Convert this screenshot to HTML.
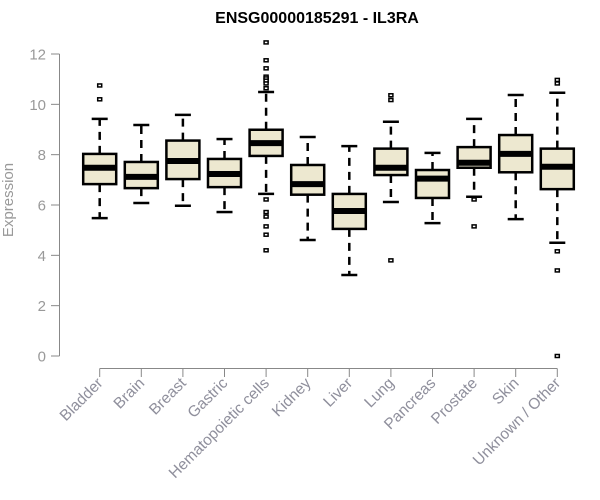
<!DOCTYPE html>
<html><head><meta charset="utf-8"><style>
body{margin:0;background:#fff}
svg{display:block;font-family:"Liberation Sans",Arial,sans-serif}
</style></head><body>
<svg id="chart" width="600" height="500" viewBox="0 0 600 500">
<text x="317" y="23" text-anchor="middle" font-weight="bold" font-size="16" fill="#000">ENSG00000185291 - IL3RA</text>
<text transform="translate(13,200) rotate(-90)" text-anchor="middle" font-size="15" fill="#999">Expression</text>
<g id="yaxis"></g>
<g id="xaxis"></g>
<g id="boxes"></g>
</svg>
<script>
const categories=["Bladder","Brain","Breast","Gastric","Hematopoietic cells","Kidney","Liver","Lung","Pancreas","Prostate","Skin","Unknown / Other"];
const whiskerLow=[5.48,6.08,5.97,5.72,6.44,4.61,3.22,6.12,5.28,6.33,5.44,4.50];
const q1=[6.83,6.67,7.03,6.71,7.95,6.41,5.05,7.19,6.28,7.48,7.30,6.63];
const medians=[7.48,7.12,7.75,7.23,8.46,6.83,5.76,7.48,7.05,7.68,8.03,7.52];
const q3=[8.03,7.71,8.56,7.83,8.99,7.59,6.44,8.24,7.39,8.30,8.78,8.24];
const whiskerHigh=[9.42,9.18,9.58,8.62,10.49,8.70,8.34,9.31,8.07,9.42,10.37,10.46];
const outliers=[[10.75,10.2],[],[],[],[12.46,11.75,11.43,11.1,11.03,10.94,10.83,10.64,6.22,5.72,5.54,5.15,4.82,4.2],[],[],[10.36,10.17,3.8],[],[6.22,5.15],[],[10.97,10.83,4.16,3.40,0]];
const yTicks=[0,2,4,6,8,10,12];
const NS="http://www.w3.org/2000/svg";
function y(v){return 356-v*(302/12);}
function x(i){return 99.7+i*41.6;}
function mk(tag,attrs,parent){const e=document.createElementNS(NS,tag);for(const k in attrs)e.setAttribute(k,attrs[k]);parent.appendChild(e);return e;}
const ya=document.getElementById('yaxis');
const l0=mk('line',{x1:59.5,x2:59.5,y1:y(12),y2:y(0),stroke:'#888','stroke-width':1},ya);


yTicks.forEach(t=>{
 const tk=mk('line',{x1:51,x2:59.5,y1:y(t),y2:y(t),stroke:'#888'},ya);
 
 
 const tx=mk('text',{x:46,y:y(t)+5.5,'text-anchor':'end','font-size':15,fill:'#999'},ya);
 tx.textContent=t;
 
 
});
const xa=document.getElementById('xaxis');
const xl=mk('line',{x1:x(0),x2:x(categories.length-1),y1:368.5,y2:368.5,stroke:'#888'},xa);


const bx=document.getElementById('boxes');
categories.forEach((c,i)=>{
 const cx=x(i);
 const tk=mk('line',{x1:cx,x2:cx,y1:368.5,y2:377,stroke:'#888'},xa);
 
 
 const tx=mk('text',{transform:`translate(${cx+4},${384}) rotate(-45)`,'text-anchor':'end','font-size':15.5,fill:'#8f8f9c'},xa);
 tx.textContent=c;
 
 
 const g=mk('g',{},bx);
 
 
 mk('line',{x1:cx,x2:cx,y1:y(q3[i]),y2:y(whiskerHigh[i]),stroke:'#000','stroke-width':2.5,'stroke-dasharray':'8,6'},g);
 mk('line',{x1:cx,x2:cx,y1:y(q1[i]),y2:y(whiskerLow[i]),stroke:'#000','stroke-width':2.5,'stroke-dasharray':'8,6'},g);
 mk('line',{x1:cx-8,x2:cx+8,y1:y(whiskerHigh[i]),y2:y(whiskerHigh[i]),stroke:'#000','stroke-width':2.5},g);
 mk('line',{x1:cx-8,x2:cx+8,y1:y(whiskerLow[i]),y2:y(whiskerLow[i]),stroke:'#000','stroke-width':2.5},g);
 mk('rect',{x:cx-16.5,y:y(q3[i]),width:33,height:y(q1[i])-y(q3[i]),fill:'#ede8d0',stroke:'#000','stroke-width':2.5},g);
 mk('line',{x1:cx-16.5,x2:cx+16.5,y1:y(medians[i]),y2:y(medians[i]),stroke:'#000','stroke-width':6},g);
 outliers[i].forEach(o=>{
  const p=mk('rect',{x:cx-2,y:y(o)-1.5,width:4,height:3,fill:'#fff',stroke:'#000','stroke-width':1.5},g);
  
  
 });
});
</script>
</body></html>
